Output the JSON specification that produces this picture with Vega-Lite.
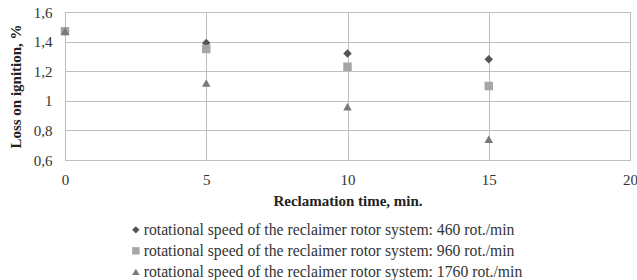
{
  "$schema": "https://vega.github.io/schema/vega-lite/v6.json",
  "width": 565,
  "height": 148,
  "autosize": {"type": "none"},
  "padding": {"left": 65, "top": 12, "right": 7, "bottom": 120},
  "background": "white",
  "config": {
    "font": "Liberation Serif",
    "view": {"stroke": "#bfbfbf", "strokeWidth": 1},
    "axis": {
      "labelFont": "Liberation Serif",
      "titleFont": "Liberation Serif",
      "labelFontSize": 15,
      "titleFontSize": 15,
      "labelColor": "#333333",
      "titleColor": "#222222",
      "gridColor": "#bfbfbf",
      "gridWidth": 1,
      "gridOpacity": 1,
      "domain": false,
      "ticks": false
    }
  },
  "data": {
    "values": [
      {"time": 0, "loi": 1.47, "series": "rotational speed of the reclaimer rotor system: 460 rot./min"},
      {"time": 5, "loi": 1.39, "series": "rotational speed of the reclaimer rotor system: 460 rot./min"},
      {"time": 10, "loi": 1.32, "series": "rotational speed of the reclaimer rotor system: 460 rot./min"},
      {"time": 15, "loi": 1.28, "series": "rotational speed of the reclaimer rotor system: 460 rot./min"},
      {"time": 0, "loi": 1.47, "series": "rotational speed of the reclaimer rotor system: 960 rot./min"},
      {"time": 5, "loi": 1.35, "series": "rotational speed of the reclaimer rotor system: 960 rot./min"},
      {"time": 10, "loi": 1.23, "series": "rotational speed of the reclaimer rotor system: 960 rot./min"},
      {"time": 15, "loi": 1.1, "series": "rotational speed of the reclaimer rotor system: 960 rot./min"},
      {"time": 0, "loi": 1.47, "series": "rotational speed of the reclaimer rotor system: 1760 rot./min"},
      {"time": 5, "loi": 1.12, "series": "rotational speed of the reclaimer rotor system: 1760 rot./min"},
      {"time": 10, "loi": 0.96, "series": "rotational speed of the reclaimer rotor system: 1760 rot./min"},
      {"time": 15, "loi": 0.74, "series": "rotational speed of the reclaimer rotor system: 1760 rot./min"}
    ]
  },
  "mark": {"type": "point", "filled": true, "opacity": 1, "size": 72},
  "encoding": {
    "x": {
      "field": "time",
      "type": "quantitative",
      "scale": {"domain": [0, 20], "nice": false},
      "axis": {
        "values": [0, 5, 10, 15, 20],
        "title": "Reclamation time, min.",
        "titleFontWeight": "bold",
        "labelPadding": 12,
        "titlePadding": 6,
        "labelFlush": false
      }
    },
    "y": {
      "field": "loi",
      "type": "quantitative",
      "scale": {"domain": [0.6, 1.6], "nice": false, "zero": false},
      "axis": {
        "values": [0.6, 0.8, 1, 1.2, 1.4, 1.6],
        "labelExpr": "replace(format(datum.value, '~g'), '.', ',')",
        "title": "Loss on ignition, %",
        "titleFontWeight": "bold",
        "labelPadding": 13,
        "titlePadding": 10,
        "labelFlush": false
      }
    },
    "shape": {
      "field": "series",
      "type": "nominal",
      "sort": null,
      "scale": {
        "domain": [
          "rotational speed of the reclaimer rotor system: 460 rot./min",
          "rotational speed of the reclaimer rotor system: 960 rot./min",
          "rotational speed of the reclaimer rotor system: 1760 rot./min"
        ],
        "range": ["diamond", "square", "triangle-up"]
      },
      "legend": {
        "title": null,
        "orient": "none",
        "legendX": 63,
        "legendY": 210,
        "labelFont": "Liberation Serif",
        "labelFontSize": 15.7,
        "labelColor": "#333333",
        "symbolSize": 55,
        "rowPadding": 4,
        "labelOffset": 0,
        "labelLimit": 500
      }
    },
    "color": {
      "field": "series",
      "type": "nominal",
      "sort": null,
      "scale": {
        "domain": [
          "rotational speed of the reclaimer rotor system: 460 rot./min",
          "rotational speed of the reclaimer rotor system: 960 rot./min",
          "rotational speed of the reclaimer rotor system: 1760 rot./min"
        ],
        "range": ["#555555", "#a6a6a6", "#787878"]
      },
      "legend": {
        "title": null,
        "orient": "none",
        "legendX": 63,
        "legendY": 210,
        "labelFont": "Liberation Serif",
        "labelFontSize": 15.7,
        "labelColor": "#333333",
        "symbolSize": 55,
        "rowPadding": 4,
        "labelOffset": 0,
        "labelLimit": 500
      }
    }
  }
}
